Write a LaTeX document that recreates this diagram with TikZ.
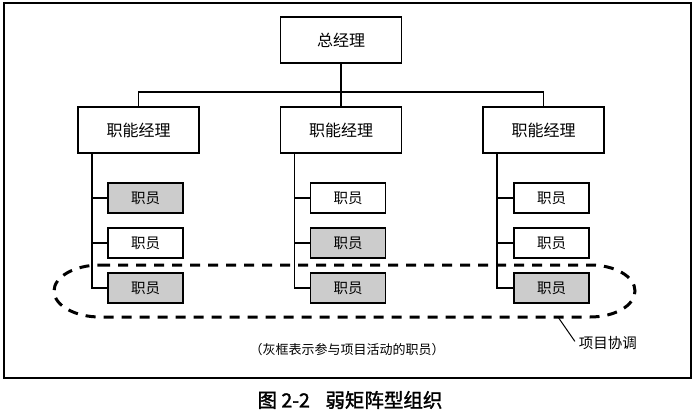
\documentclass[tikz,border=0pt]{standalone}
\usepackage{fontspec}
\setmainfont{Noto Sans CJK SC}
\newfontfamily\capfont[FakeBold=1.5]{Noto Sans CJK SC}
\usetikzlibrary{positioning}

\begin{document}
\begin{tikzpicture}[
            x = 1pt, y = -1pt, % pixel units, y grows downwards
            line width = 1.5pt, % connector style
            font = \fontsize{16pt}{16pt}\selectfont
        ]

        \tikzstyle{mgr}=[
            draw = black,
            line width = 1.6pt,
            fill = white,
            inner sep = 0pt,
            minimum width = 121pt,
            minimum height = 46pt
        ]
        \tikzstyle{staff}=[
            mgr,
            minimum width = 75pt,
            minimum height = 30pt,
            font = \fontsize{14.5pt}{14.5pt}\selectfont
        ]
        \tikzstyle{active}=[staff, fill = black!20] % gray = takes part in the project
        \tikzstyle{taskloop}=[line width = 3pt, dash pattern = on 10pt off 8pt]

        \useasboundingbox (0,0) rectangle (693,414);
        \draw[line width = 2pt] (4,3) rectangle (691,378);

        \node[mgr] (gm) at (341,40) {总经理};
        \node[mgr] (fm1) at (138.5,130) {职能经理};
        \node[mgr] (fm2) at (341,130) {职能经理};
        \node[mgr] (fm3) at (543.5,130) {职能经理};

        \node[active] (s11) at (145.5,198) {职员};
        \node[staff] (s12) at (145.5,243) {职员};
        \node[active] (s13) at (145.5,288) {职员};
        \node[staff] (s21) at (348,198) {职员};
        \node[active] (s22) at (348,243) {职员};
        \node[active] (s23) at (348,288) {职员};
        \node[staff] (s31) at (551.5,198) {职员};
        \node[staff] (s32) at (551.5,243) {职员};
        \node[active] (s33) at (551.5,288) {职员};

        % top level
        \draw (gm) -- (fm2);
        \draw (fm1.north) -- ++(0,-14) -| (fm3.north);

        % staff under each manager
        \draw ([xshift=15pt]fm1.south west) |- (s13.west);
        \draw (s11.west) -- ++(-15,0);
        \draw (s12.west) -- ++(-15,0);
        \draw ([xshift=15pt]fm2.south west) |- (s23.west);
        \draw (s21.west) -- ++(-15,0);
        \draw (s22.west) -- ++(-15,0);
        \draw ([xshift=15pt]fm3.south west) |- (s33.west);
        \draw (s31.west) -- ++(-15,0);
        \draw (s32.west) -- ++(-15,0);

        % project coordination loop
        \draw[taskloop] (100,265) -- (590,265)
            .. controls (615,265) and (635,276.6) .. (635,291)
            .. controls (635,305.4) and (615,317) .. (590,317)
            -- (100,317)
            .. controls (75,317) and (54,305.4) .. (54,291)
            .. controls (54,276.6) and (75,265) .. (100,265);
        \coordinate (loopfoot) at (558,317);
        \node[anchor = west, inner sep = 2pt, font = \fontsize{14.5pt}{14.5pt}\selectfont] (coordlbl) at (576,343) {项目协调};
        \draw[line width = 1pt, shorten > = 2pt] (loopfoot) -- (coordlbl.west);

        \node[font = \fontsize{13pt}{13pt}\selectfont] (note) at (347,350) {（灰框表示参与项目活动的职员）};
        \node[font = \fontsize{19.5pt}{19.5pt}\capfont] (caption) at (350,400) {图 2-2\hspace{0.8em}弱矩阵型组织};
    \end{tikzpicture}
\end{document}
